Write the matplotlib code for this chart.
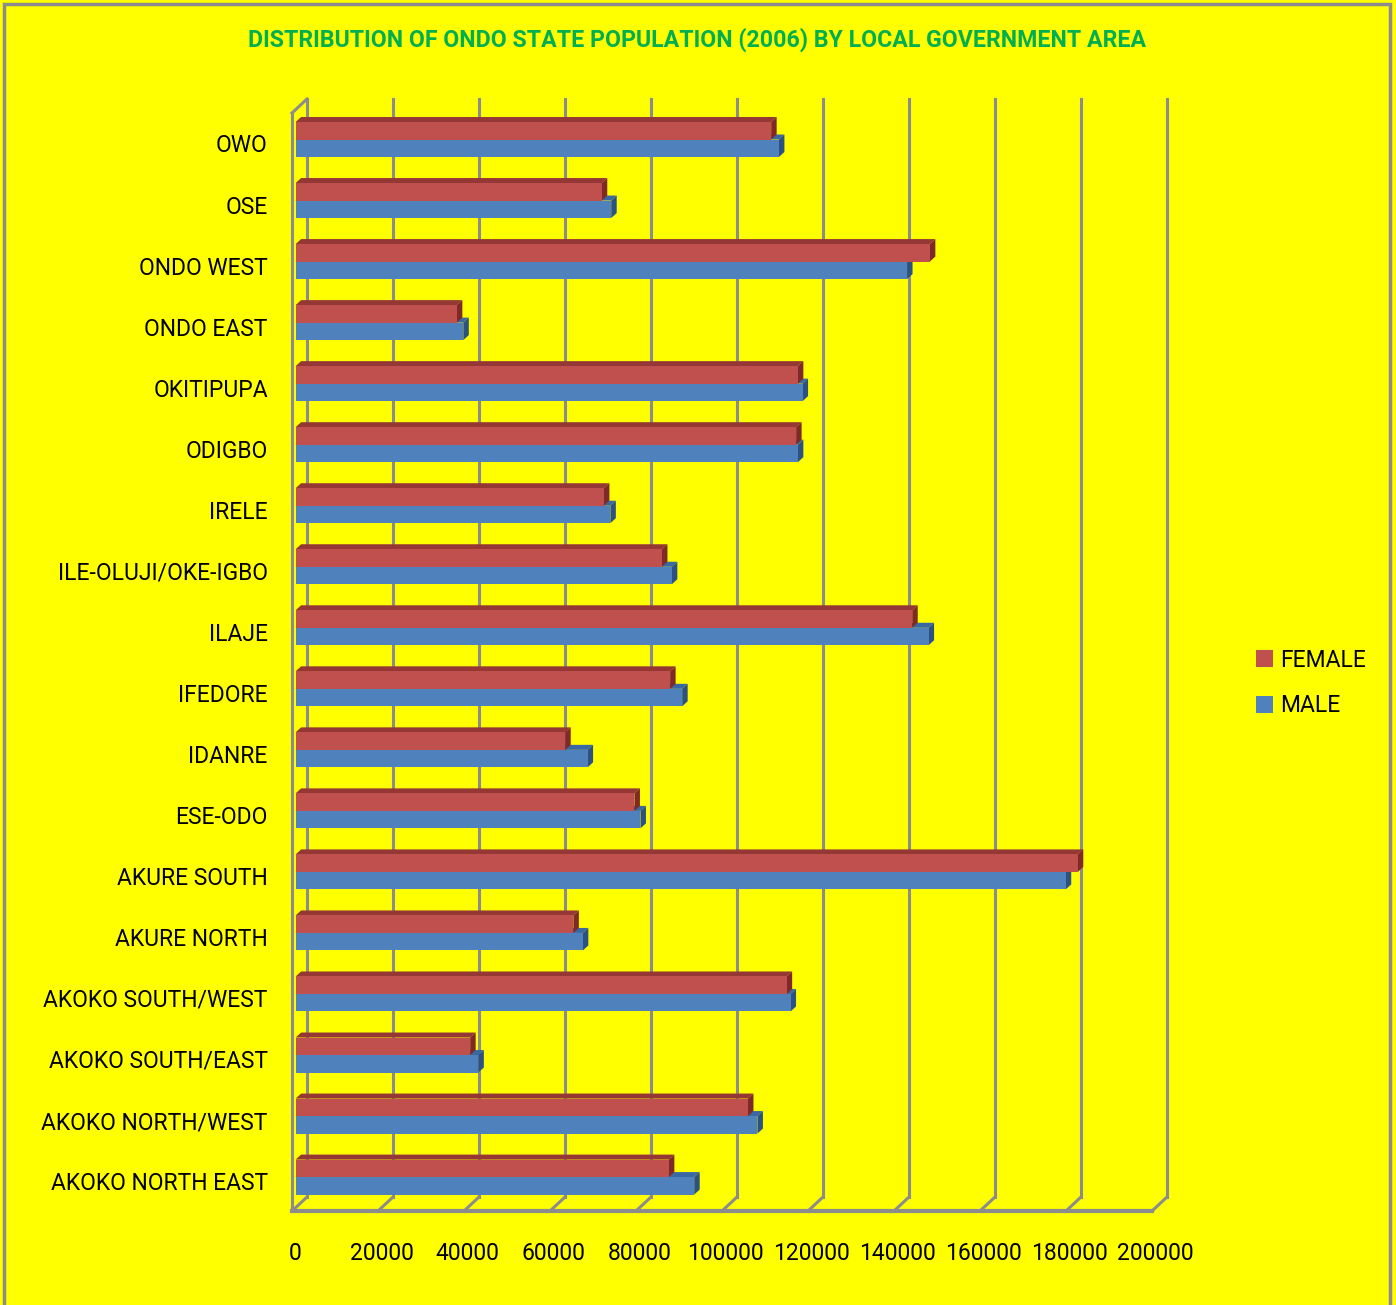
import matplotlib
matplotlib.use("Agg")
import matplotlib.pyplot as plt
from matplotlib.patches import Polygon, Rectangle, Patch

plt.rcParams['font.family'] = ['Roboto', 'DejaVu Sans']

# dados (populacao 2006 por LGA, ordem do Excel: de baixo para cima)
lgas = ["AKOKO NORTH EAST", "AKOKO NORTH/WEST", "AKOKO SOUTH/EAST", "AKOKO SOUTH/WEST",
        "AKURE NORTH", "AKURE SOUTH", "ESE-ODO", "IDANRE", "IFEDORE", "ILAJE",
        "ILE-OLUJI/OKE-IGBO", "IRELE", "ODIGBO", "OKITIPUPA", "ONDO EAST", "ONDO WEST",
        "OSE", "OWO"]
female = [86800, 105200, 40600, 114200, 64600, 181900, 78800, 62700, 87100, 143400,
          85200, 71700, 116400, 116800, 37500, 147500, 71200, 110600]
male = [92700, 107400, 42500, 115100, 66800, 179100, 80200, 67900, 89900, 147200,
        87500, 73200, 116800, 117900, 39000, 142200, 73400, 112400]
xticks = [0, 20000, 40000, 60000, 80000, 100000, 120000, 140000, 160000, 180000, 200000]

W, H = 1396, 1305
fig = plt.figure(figsize=(W / 100, H / 100), dpi=100, facecolor='#FFFF00')
ax = fig.add_axes([295.6 / W, (H - 1207.6) / H, 860 / W, 1098 / H])
ax.set_facecolor('none')
top, bottom = -0.49, 17.5
ax.set_xlim(0, 200000)
ax.set_ylim(bottom, top)
for s in ax.spines.values():
    s.set_visible(False)

# unidades de dados por pixel
PX = 200000 / 860
PY = (bottom - top) / 1098
bar_d = (5.5 * PX, -5 * PY)
back = (11.4 * PX, -10.6 * PY)
front = (-3.6 * PX, 3.4 * PY)
grid_c = '#8C8C8C'

# paredes e grade "3D"
for v in xticks:
    ax.plot([v + back[0]] * 2, [top + back[1], bottom + back[1]], color=grid_c, lw=2.2,
            clip_on=False, zorder=1)
    ax.plot([v + back[0], v + front[0]], [bottom + back[1], bottom + front[1]], color=grid_c,
            lw=2.2, clip_on=False, zorder=1)
ax.plot([front[0], 200000 + front[0]], [bottom + front[1]] * 2, color=grid_c, lw=3,
        clip_on=False, zorder=1)
ax.plot([front[0]] * 2, [top + front[1], bottom + front[1]], color=grid_c, lw=2.2,
        clip_on=False, zorder=1)
ax.plot([front[0], back[0]], [top + front[1], top + back[1]], color=grid_c, lw=2.2,
        clip_on=False, zorder=1)

h = 17.5 / 61.06


def bar3d(v, y0, y1, c_front, c_top, c_side, z):
    dx, dy = bar_d
    ax.add_patch(Polygon([(0, y0), (v, y0), (v + dx, y0 + dy), (dx, y0 + dy)],
                         closed=True, facecolor=c_top, edgecolor='none', zorder=z, clip_on=False))
    ax.add_patch(Polygon([(v, y0), (v, y1), (v + dx, y1 + dy), (v + dx, y0 + dy)],
                         closed=True, facecolor=c_side, edgecolor='none', zorder=z, clip_on=False))
    ax.add_patch(Rectangle((0, y0), v, y1 - y0, facecolor=c_front, edgecolor='none',
                           zorder=z + 0.5))


n = len(lgas)
for i in range(n):
    k = n - 1 - i
    bar3d(male[i], k, k + h, '#4F81BD', '#3A68A2', '#2C5283', 3)
    bar3d(female[i], k - h, k, '#C0504D', '#953735', '#7F2A28', 4)

ax.set_xticks(xticks)
ax.set_xticklabels([str(v) for v in xticks])
ax.set_yticks([n - 1 - i + 0.065 for i in range(n)])
ax.set_yticklabels(lgas)
ax.tick_params(axis='x', length=0, pad=25, labelsize=16.5)
ax.tick_params(axis='y', length=0, pad=20, labelsize=16.5)

fig.text(697 / W, 1 - 40 / H,
         'DISTRIBUTION OF ONDO STATE POPULATION (2006) BY LOCAL GOVERNMENT AREA',
         ha='center', va='center', color='#00B050', fontsize=16.7, fontweight='bold')

handles = [Patch(facecolor='#C0504D', label='FEMALE'), Patch(facecolor='#4F81BD', label='MALE')]
fig.legend(handles=handles, loc='center left', bbox_to_anchor=(1235 / W, 1 - 683 / H),
           frameon=False, fontsize=16.5, handlelength=0.75, handleheight=0.75,
           handletextpad=0.3, labelspacing=1.0)

fig.patches.append(Rectangle((4 / W, -0.01), (1390 - 4) / W, 1 - 4 / H + 0.01,
                             transform=fig.transFigure, fill=False, edgecolor=grid_c, lw=2.5))

fig.savefig('out.png', dpi=100, facecolor=fig.get_facecolor())
